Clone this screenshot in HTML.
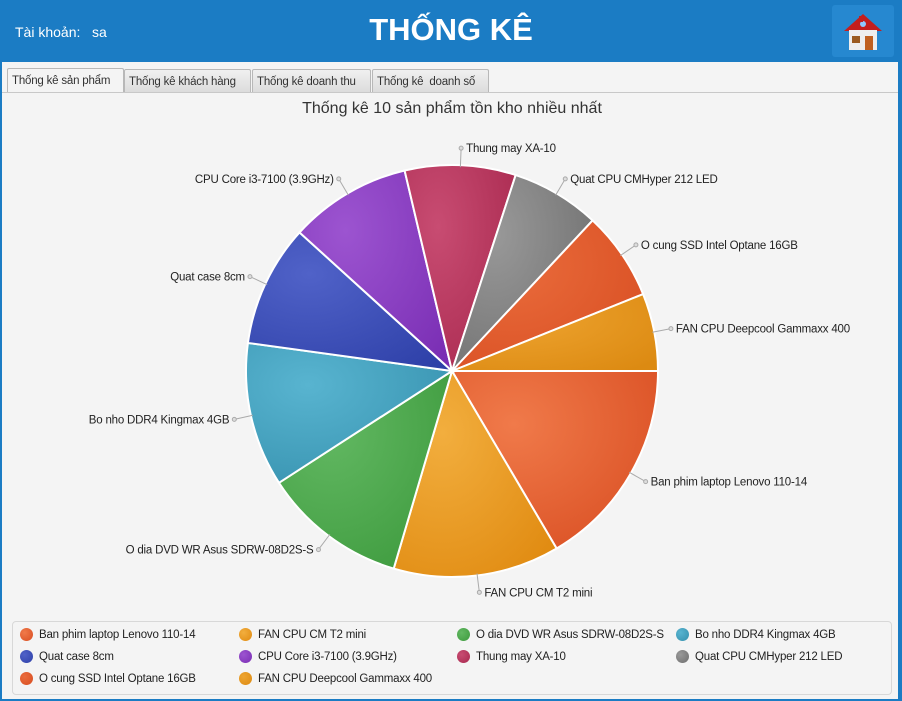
<!DOCTYPE html>
<html><head><meta charset="utf-8"><style>
body{margin:0;width:902px;height:701px;overflow:hidden;font-family:"Liberation Sans","Noto Sans CJK SC",sans-serif;background:#1b7cc4;}
#frame{position:absolute;left:2px;top:62px;width:896px;height:637px;background:#f4f4f4;}
.tab{position:absolute;top:7px;height:23px;border:1px solid #b8b8b8;border-bottom:none;background:linear-gradient(#f0f0f0,#dcdcdc);font-size:11.5px;letter-spacing:-0.2px;color:#333;line-height:24px;padding:0 4px;box-sizing:border-box;border-radius:2px 2px 0 0;white-space:nowrap;overflow:hidden}
.tab.active{background:#f4f4f4;top:6px;height:25px}
#legend{position:absolute;left:10px;top:559px;width:878px;height:72px;border:1px solid #d8d8d8;border-radius:4px;}
.li{position:absolute;font-size:11.5px;letter-spacing:-0.2px;color:#222;height:16px;line-height:16px;padding-left:19px;white-space:nowrap}
.li span{position:absolute;left:0;top:1px;width:13px;height:13px;border-radius:50%}
</style></head><body>
<div style="position:absolute;left:0;top:0;width:902px;height:62px;">
<div style="position:absolute;left:15px;top:24px;color:#fff;font-size:14px;">Tài khoản:&nbsp;&nbsp; sa</div>
<div style="position:absolute;left:0;width:902px;top:12px;text-align:center;color:#fff;font-size:31px;font-weight:bold;">THỐNG KÊ</div>
<div style="position:absolute;left:832px;top:5px;width:62px;height:52px;background:#2688d0;border-radius:3px;">
<svg width="62" height="52"><polygon points="31,9 12,26 50,26" fill="#c41e1e"/><rect x="17" y="25" width="28" height="20" fill="#eee"/><rect x="33" y="31" width="8" height="14" fill="#c06020"/><rect x="20" y="31" width="8" height="7" fill="#9a5a20"/><circle cx="31" cy="19" r="3" fill="#8fc8ff"/><rect x="27" y="11" width="4" height="6" fill="#c41e1e"/></svg></div>
</div>
<div id="frame">
<div class="tab active" style="left:5px;width:117px">Thống kê sản phẩm</div>
<div class="tab" style="left:122px;width:127px">Thống kê khách hàng</div>
<div class="tab" style="left:250px;width:119px">Thống kê doanh thu</div>
<div class="tab" style="left:370px;width:117px">Thống kê&nbsp; doanh số</div>
<div style="position:absolute;left:0;top:30px;width:896px;height:1px;background:#c8c8c8"></div>
<div style="position:absolute;left:0;width:900px;top:38px;text-align:center;font-size:16px;color:#333">Thống kê 10 sản phẩm tồn kho nhiều nhất</div>
<div id="legend"></div>
</div>
<svg id="pie" width="902" height="701" style="position:absolute;left:0;top:0;pointer-events:none"><defs id="defs"></defs></svg>
<script>
const categories=["Ban phim laptop Lenovo 110-14","FAN CPU CM T2 mini","O dia DVD WR Asus SDRW-08D2S-S","Bo nho DDR4 Kingmax 4GB","Quat case 8cm","CPU Core i3-7100 (3.9GHz)","Thung may XA-10","Quat CPU CMHyper 212 LED","O cung SSD Intel Optane 16GB","FAN CPU Deepcool Gammaxx 400"];
const values=[19,15,13,13,11,11,10,8,8,7];
const colors=[["#f07a4a","#d94e22"],["#f2ae3e","#e08a10"],["#62b862","#3d9a3d"],["#58b4d0","#3590ad"],["#5062c8","#2e40a8"],["#9c54d0","#7a2eb4"],["#c84c72","#a8284e"],["#999999","#6e6e6e"],["#ea6c3c","#d84e22"],["#eea430","#dc8a12"]];
const cx=452,cy=371,R=206;
const svg=document.getElementById('pie'),defs=document.getElementById('defs'),NS="http://www.w3.org/2000/svg";
const total=values.reduce((a,b)=>a+b,0);
let a0=0;
values.forEach((v,i)=>{
 const a1=a0+v/total*2*Math.PI;
 const g=document.createElementNS(NS,'radialGradient');g.id='g'+i;g.setAttribute('cx','0.3');g.setAttribute('cy','0.3');g.setAttribute('r','0.9');
 g.innerHTML=`<stop offset="0" stop-color="${colors[i][0]}"/><stop offset="1" stop-color="${colors[i][1]}"/>`;defs.appendChild(g);
 const p=document.createElementNS(NS,'path');
 const x0=cx+R*Math.cos(a0),y0=cy+R*Math.sin(a0),x1=cx+R*Math.cos(a1),y1=cy+R*Math.sin(a1);
 p.setAttribute('d',`M${cx},${cy}L${x0},${y0}A${R},${R} 0 ${a1-a0>Math.PI?1:0} 1 ${x1},${y1}Z`);
 p.setAttribute('fill','url(#g'+i+')');p.setAttribute('stroke','#fff');p.setAttribute('stroke-width','2');
 
 
 svg.appendChild(p);
 const m=(a0+a1)/2,c=Math.cos(m),s=Math.sin(m);
 const ln=document.createElementNS(NS,'line');
 ln.setAttribute('x1',cx+(R-2)*c);ln.setAttribute('y1',cy+(R-2)*s);ln.setAttribute('x2',cx+(R+17)*c);ln.setAttribute('y2',cy+(R+17)*s);
 ln.setAttribute('stroke','#aaa');ln.setAttribute('stroke-width','1');
 
 
 svg.appendChild(ln);
 const dot=document.createElementNS(NS,'circle');dot.setAttribute('cx',cx+(R+17)*c);dot.setAttribute('cy',cy+(R+17)*s);dot.setAttribute('r','2');dot.setAttribute('fill','#ddd');dot.setAttribute('stroke','#aaa');
 svg.appendChild(dot);
 const t=document.createElementNS(NS,'text');
 const right=c>=0;
 t.setAttribute('x',cx+(R+17)*c+(right?5:-5));t.setAttribute('y',cy+(R+17)*s+4);
 t.setAttribute('text-anchor',right?'start':'end');t.setAttribute('font-size','11.5');t.setAttribute('letter-spacing','-0.2');t.setAttribute('fill','#222');
 t.setAttribute('font-family','Liberation Sans, sans-serif');
 t.textContent=categories[i];
 
 
 svg.appendChild(t);
 a0=a1;
});
const leg=document.getElementById('legend');
const colX=[7,226,444,663];
categories.forEach((c,i)=>{
 const d=document.createElement('div');d.className='li';
 d.style.left=colX[i%4]+'px';d.style.top=(5+Math.floor(i/4)*22)+'px';
 d.innerHTML=`<span style="background:radial-gradient(circle at 35% 35%,${colors[i][0]},${colors[i][1]})"></span>${c}`;
 
 
 leg.appendChild(d);
});
</script>
</body></html>
